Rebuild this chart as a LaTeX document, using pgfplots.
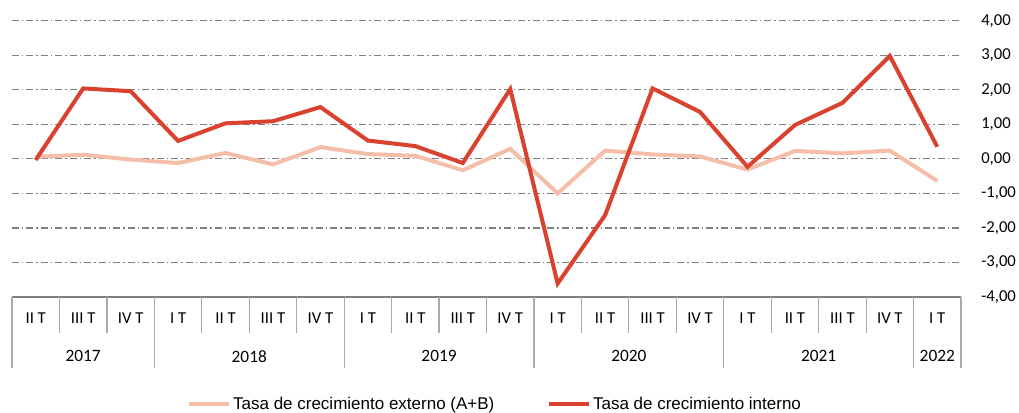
\documentclass[border=0pt]{standalone}
\usepackage{fontspec}
\setmainfont{Carlito}
\newfontfamily\arialf{Liberation Sans}
\usepackage{pgfplots}
\pgfplotsset{compat=1.18}
\definecolor{cred}{RGB}{218,66,48}
\definecolor{clight}{RGB}{244,190,168}
\definecolor{gridg}{RGB}{128,128,128}
\definecolor{sepg}{RGB}{170,170,170}
\begin{document}
\begin{tikzpicture}
\path[use as bounding box] (0pt,0pt) rectangle (764.25pt,309.75pt);
\begin{axis}[
  at={(9pt,87pt)}, anchor=south west,
  scale only axis, width=711.75pt, height=207.2pt,
  xmin=-0.5, xmax=19.5, ymin=-4, ymax=4,
  clip=false,
  axis x line*=bottom, axis y line*=right,
  x axis line style={draw=gridg, line width=1.3pt, -},
  y axis line style={draw=none},
  ytick={-4,-3,...,4},
  xtick={0,...,19},
  xticklabels={II T,III T,IV T,I T,II T,III T,IV T,I T,II T,III T,IV T,I T,II T,III T,IV T,I T,II T,III T,IV T,I T},
  major tick length=0pt,
  tick style={draw=none},
  ymajorgrids,
  grid style={draw=gridg, line width=0.9pt, dash pattern=on 5.25pt off 2.25pt on 1.1pt off 2.25pt},
  font=\fontsize{13}{15}\selectfont,
  xticklabel style={anchor=center, yshift=-16pt, font=\fontsize{12.5}{15}\selectfont},
  yticklabel style={anchor=west, inner sep=0pt, xshift=15pt, font=\fontsize{12.5}{15}\selectfont},
  /pgf/number format/assume math mode=true,
  /pgf/number format/.cd, fixed, fixed zerofill, precision=2, use comma,
  /pgfplots/.cd,
  legend columns=2,
  legend style={at={(0.509,-0.387)}, anchor=center, draw=none, fill=none,
    font=\arialf\fontsize{12.75}{15}\selectfont,
    /tikz/every even column/.append style={column sep=38pt},
    nodes={inner sep=1.5pt}},
  legend image code/.code={\draw[#1, line width=3pt] (0pt,0pt) -- (30pt,0pt);},
]
\addplot[clight, line width=3pt] coordinates {
(0,0.06) (1,0.12) (2,-0.02) (3,-0.12) (4,0.17) (5,-0.16) (6,0.34) (7,0.14) (8,0.09) (9,-0.33)
(10,0.29) (11,-1.00) (12,0.24) (13,0.13) (14,0.07) (15,-0.31) (16,0.23) (17,0.16) (18,0.24) (19,-0.64)};
\addlegendentry{Tasa de crecimiento externo (A+B)}
\addplot[cred, line width=3pt] coordinates {
(0,-0.03) (1,2.04) (2,1.96) (3,0.52) (4,1.03) (5,1.09) (6,1.50) (7,0.53) (8,0.37) (9,-0.12)
(10,2.02) (11,-3.61) (12,-1.63) (13,2.04) (14,1.36) (15,-0.23) (16,0.98) (17,1.62) (18,2.98) (19,0.35)};
\addlegendentry{Tasa de crecimiento interno}
% category separators
\pgfplotsinvokeforeach{0.5,1.5,3.5,4.5,5.5,7.5,8.5,9.5,11.5,12.5,13.5,15.5,16.5,17.5}{
  \draw[sepg, line width=0.9pt] (axis cs:#1,-4) -- (axis cs:#1,-5.04);
}
\pgfplotsinvokeforeach{-0.5,2.5,6.5,10.5,14.5,18.5,19.5}{
  \draw[sepg, line width=0.9pt] (axis cs:#1,-4) -- (axis cs:#1,-6.06);
}
\node[font=\fontsize{13}{15}\selectfont] at (axis cs:1,-5.72) {2017};
\node[font=\fontsize{13}{15}\selectfont] at (axis cs:4.5,-5.72) {2018};
\node[font=\fontsize{13}{15}\selectfont] at (axis cs:8.5,-5.72) {2019};
\node[font=\fontsize{13}{15}\selectfont] at (axis cs:12.5,-5.72) {2020};
\node[font=\fontsize{13}{15}\selectfont] at (axis cs:16.5,-5.72) {2021};
\node[font=\fontsize{13}{15}\selectfont] at (axis cs:19,-5.72) {2022};
\end{axis}
\end{tikzpicture}
\end{document}
